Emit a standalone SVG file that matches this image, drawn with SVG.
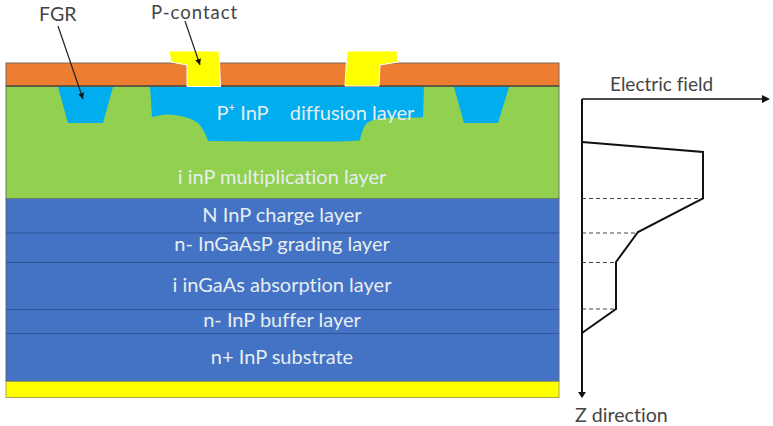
<svg xmlns="http://www.w3.org/2000/svg" width="773" height="426" viewBox="0 0 773 426">
<style>
text{font-family:"Lato","Noto Sans",sans-serif;font-size:19.6px;font-variant-ligatures:none}
.w{fill:#e6eef0;text-anchor:middle;font-size:20px}
.d{fill:#444}
.sep{stroke:#2f5597;stroke-width:1;fill:none}
.curve{stroke:#111;stroke-width:2;fill:none}
.dash{stroke:#444;stroke-width:1;stroke-dasharray:4 3;fill:none}
.ptr{stroke:#222;stroke-width:1.2;fill:none;marker-end:url(#s)}
.blue{fill:#00adef}
.yel{fill:#ffff00;stroke:#fff;stroke-width:1}
</style>
<defs>
<marker id="s" markerUnits="userSpaceOnUse" markerWidth="8" markerHeight="8" refX="6" refY="3" orient="auto"><path d="M0 0L6 3L0 6Z" fill="#111"/></marker>
</defs>
<rect width="773" height="426" fill="#fff"/>
<g id="device">
<rect id="metal-bottom" x="6" y="381" width="553" height="16.500" fill="#ffff00" stroke="#a5a55a" stroke-width="1"/>
<rect id="blue-stack" x="6" y="198.500" width="553" height="182.500" fill="#4472c4" stroke="#5a6b85" stroke-width="1"/>
<rect id="green" x="6" y="86" width="553" height="112.500" fill="#92d050" stroke="#6b7a60" stroke-width="1"/>
<rect id="orange" x="6" y="63" width="553" height="23" fill="#ed7d31" stroke="#7a6a5a" stroke-width="1"/>
<line x1="6" y1="86" x2="559" y2="86" stroke="#333" stroke-width="1"/>
<path class="sep" d="M6 233H559M6 262.500H559M6 309.500H559M6 333.500H559"/>
<path id="fgr-left" class="blue" d="M58 87H113L103 123H68Z"/>
<path id="fgr-right" class="blue" d="M454 87H509L498 123H464Z"/>
<path id="diffusion" class="blue" d="M150 87H424L423 117L419 117.500L385 118Q372 119 367 123Q362 128 360 140.500L340 141.500H260L208 141Q204 129 198 123Q190 117 175 115Q163 113.500 157 116L152 117Z"/>
<path id="contact-left" class="yel" d="M169 51H219L220.500 86.500H187V65L171 62Z"/>
<path id="contact-right" class="yel" d="M347 51H397L398 62L380 65L379 86H345Z"/>
</g>
<g id="layer-labels">
<text class="w" x="242.500" y="120">P⁺ InP</text>
<text class="w" x="352" y="120">diffusion layer</text>
<text class="w" x="282" y="184">i inP multiplication layer</text>
<text class="w" x="282" y="222">N InP charge layer</text>
<text class="w" x="282" y="251">n- InGaAsP grading layer</text>
<text class="w" x="282" y="292">i inGaAs absorption layer</text>
<text class="w" x="282" y="327">n- InP buffer layer</text>
<text class="w" x="282" y="364">n+ InP substrate</text>
</g>
<g id="callouts">
<text class="d" x="39" y="21">FGR</text>
<text class="d" x="151" y="19" style="font-size:18.500px;letter-spacing:1px">P-contact</text>
<path class="ptr" d="M58 26L83 99"/>
<path class="ptr" d="M185 21L200 65"/>
</g>
<g id="field-plot">
<path d="M582 99V397" stroke="#111" stroke-width="2" fill="none"/>
<path d="M582 99H768" stroke="#111" stroke-width="1.500" fill="none"/>
<path d="M762 95L770 99L762 103Z" fill="#111"/>
<path d="M578 392L582 398L586 392Z" fill="#111"/>
<path class="dash" d="M582 198.500H703M582 233H638M582 262.500H616M582 309H616"/>
<path class="curve" d="M582 142L703 152V198.500L638 232L616 262V309L582 333"/>
<text class="d" x="610" y="91" style="font-size:19px">Electric field</text>
<text class="d" x="575" y="422">Z direction</text>
</g>
</svg>
